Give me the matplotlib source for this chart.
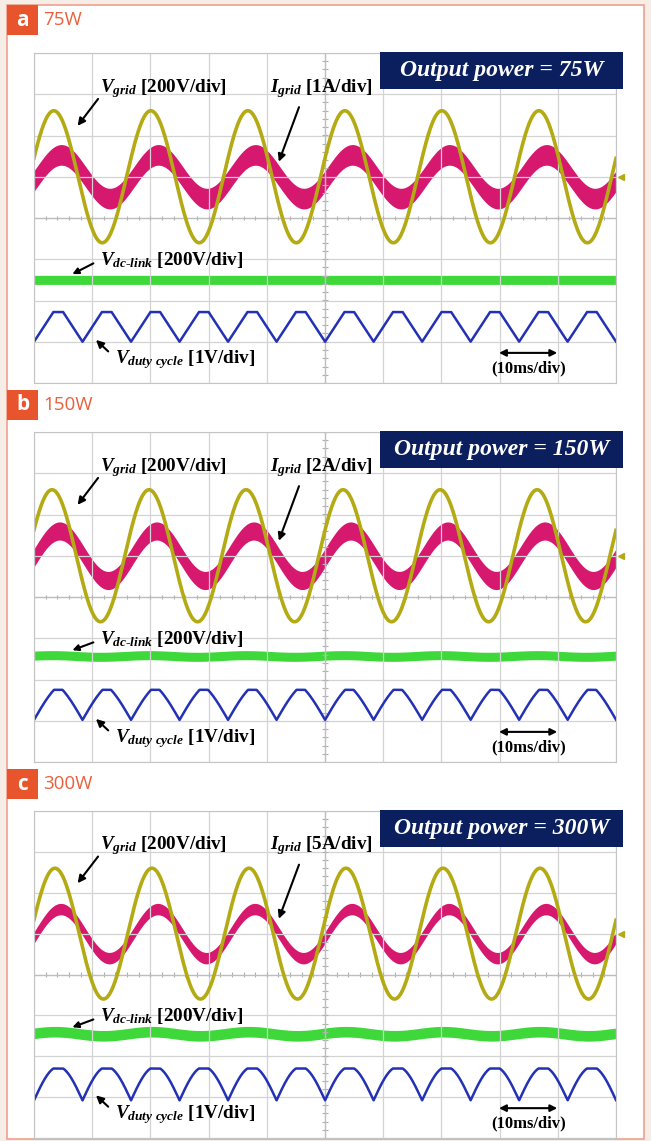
import numpy as np
import matplotlib.pyplot as plt
from matplotlib.patches import Rectangle

plt.rcParams.update({
    "mathtext.fontset": "custom",
    "mathtext.it": "Liberation Serif:italic:bold",
    "mathtext.rm": "Liberation Serif:bold",
    "mathtext.bf": "Liberation Serif:bold",
})

W, H = 651, 1141

panel_letters = ["a", "b", "c"]
panel_titles = ["75W", "150W", "300W"]
box_texts = ["Output power = 75W", "Output power = 150W", "Output power = 300W"]
igrid_scales = ["[1A/div]", "[2A/div]", "[5A/div]"]

# scope readings in divisions (10 x 8 screen, 0 = screen centre)
line_period = 1.667          # 60 Hz at 10 ms/div
vgrid_offset = [1.0, 1.0, 1.0]
vgrid_amp = [1.6, 1.6, 1.6]
vgrid_peak_x = [0.34, 0.31, 0.36]
igrid_amp = [0.53, 0.6, 0.6]
igrid_band = [0.25, 0.22, 0.14]
igrid_lag = [0.13, 0.13, 0.10]
vdc_level = [-1.5, -1.43, -1.45]
vdc_band = [0.11, 0.11, 0.13]
vdc_ripple = [0.0, 0.02, 0.05]
duty_low = [-3.0, -2.98, -3.08]
duty_high = [-2.28, -2.25, -2.30]
duty_trough_x = [0.0, 0.0, 0.0]
duty_tri = [1.0, 0.6, 0.0]     # 1 = triangle, 0 = arch
duty_clip = [0.8, 0.88, 0.95]

c_vgrid = "#b3aa14"
c_igrid = "#d6186f"
c_vdc = "#3fd83a"
c_duty = "#2331b5"
c_grid = "#d3d3d3"

fig = plt.figure(figsize=(W / 100, H / 100), dpi=100)
fig.patch.set_facecolor("#f6eee6")
fig.add_artist(Rectangle((7 / W, 2 / H), 637 / W, (H - 7) / H, transform=fig.transFigure,
                         facecolor="white", edgecolor="#ef9f8f", lw=1.2, zorder=-5))

t = np.linspace(0, 10, 3000)

for i in range(3):
    top = 53 + 379 * i
    h = 330 if i < 2 else 327
    ax = fig.add_axes([34 / W, 1 - (top + h) / H, 582 / W, h / H])
    ax.set_facecolor("white")
    ax.set_xlim(0, 10)
    ax.set_ylim(-4, 4)
    ax.set_xticks(np.arange(0, 11))
    ax.set_yticks(np.arange(-4, 5))
    ax.tick_params(length=0, labelbottom=False, labelleft=False)
    ax.grid(True, color=c_grid, lw=0.9)
    for s in ax.spines.values():
        s.set_color("#c4c4c4")
    # centre axes with small ticks
    mx = np.arange(0, 10.01, 0.2)
    my = np.arange(-4, 4.01, 0.2)
    ax.vlines(mx, -0.06, 0.06, color="#b0b0b0", lw=0.8)
    ax.hlines(my, 4.94, 5.06, color="#b0b0b0", lw=0.8)
    ax.axhline(0, color="#bdbdbd", lw=0.9)
    ax.axvline(5, color="#bdbdbd", lw=0.9)

    w = 2 * np.pi / line_period
    ig = vgrid_offset[i] + igrid_amp[i] * np.cos(w * (t - vgrid_peak_x[i] - igrid_lag[i]))
    ax.fill_between(t, ig - igrid_band[i], ig + igrid_band[i], color=c_igrid, lw=0)
    vg = vgrid_offset[i] + vgrid_amp[i] * np.cos(w * (t - vgrid_peak_x[i]))
    ax.plot(t, vg, color=c_vgrid, lw=2.6)

    vdc = vdc_level[i] + vdc_ripple[i] * np.cos(w * (t - vgrid_peak_x[i]))
    ax.fill_between(t, vdc - vdc_band[i], vdc + vdc_band[i], color=c_vdc, lw=0)

    ph = ((t - duty_trough_x[i]) / (line_period / 2)) % 1
    tri = 1 - np.abs(2 * ph - 1)
    arch = np.sin(np.pi * ph)
    shape = duty_tri[i] * tri + (1 - duty_tri[i]) * arch
    shape = np.minimum(shape / duty_clip[i], 1)
    duty = duty_low[i] + (duty_high[i] - duty_low[i]) * shape
    ax.plot(t, duty, color=c_duty, lw=1.8)

    ax.plot([10.08], [vgrid_offset[i]], marker="<", ms=4, color=c_vgrid, clip_on=False)

    # labels
    lab = dict(fontsize=13.8, fontweight="bold", family="Liberation Serif", va="center", ha="left")
    ax.text(1.13, 3.15, r"$V_{grid}$ [200V/div]", **lab)
    ax.text(4.05, 3.15, r"$I_{grid}$ " + igrid_scales[i], **lab)
    ax.text(1.13, -1.02, r"$V_{dc\text{-}link}$ [200V/div]", **lab)
    ax.text(1.39, -3.42, r"$V_{duty\ cycle}$ [1V/div]", **lab)
    ax.text(8.5, -3.64, "(10ms/div)", fontsize=12, fontweight="bold", family="Liberation Serif",
            va="center", ha="center")

    ap = dict(arrowstyle="-|>", color="black", lw=1.5, mutation_scale=11)
    ax.annotate("", xy=(0.72, 2.18), xytext=(1.13, 2.94), arrowprops=ap)
    ax.annotate("", xy=(4.19, 1.3), xytext=(4.57, 2.75), arrowprops=ap)
    ax.annotate("", xy=(0.66, vdc_level[i] + vdc_band[i] + 0.03), xytext=(1.02, -1.1),
                arrowprops=dict(arrowstyle="-|>", color="black", lw=1.5, mutation_scale=9,
                                shrinkA=0, shrinkB=0))
    ax.annotate("", xy=(1.03, -2.91), xytext=(1.31, -3.28), arrowprops=ap)
    ax.annotate("", xy=(8.99, -3.27), xytext=(7.99, -3.27),
                arrowprops=dict(arrowstyle="<|-|>", color="black", lw=1.5, mutation_scale=10,
                                shrinkA=0, shrinkB=0))

    ax.add_patch(Rectangle((5.95, 3.13), 4.17, 0.89, facecolor="#0b1f5e", edgecolor="none",
                           clip_on=False, zorder=5))
    ax.text(8.035, 3.575, box_texts[i], color="white", fontsize=17, fontweight="bold",
            fontstyle="italic", family="Liberation Serif", ha="center", va="center", zorder=6)

    # panel header badge
    btop = 5 if i == 0 else top - 42
    fig.add_artist(Rectangle((7 / W, 1 - (btop + 30) / H), 31 / W, 30 / H, transform=fig.transFigure,
                             facecolor="#e8552d", edgecolor="none"))
    fig.text(22.5 / W, 1 - (btop + 15) / H, panel_letters[i], color="white", fontsize=15,
             fontweight="bold", family="Open Sans", ha="center", va="center")
    fig.text(43 / W, 1 - (btop + 15) / H, panel_titles[i], color="#e8603c", fontsize=13.5,
             family="Open Sans", ha="left", va="center")

fig.savefig("out.png", dpi=100, facecolor=fig.get_facecolor())
